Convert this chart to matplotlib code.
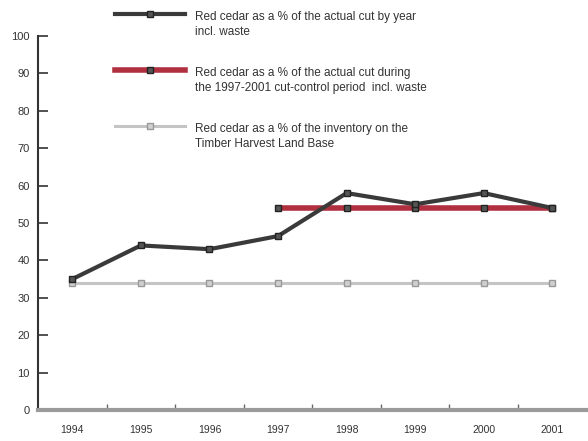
import numpy as np
import matplotlib.pyplot as plt
from matplotlib.lines import Line2D

years = [1994, 1995, 1996, 1997, 1998, 1999, 2000, 2001]
cut_by_year = [35, 44, 43, 46.5, 58, 55, 58, 54]
cc_years = [1997, 1998, 1999, 2000, 2001]
cut_control = [54, 54, 54, 54, 54]
inventory = [34, 34, 34, 34, 34, 34, 34, 34]

labels = ['Red cedar as a % of the actual cut by year\nincl. waste',
          'Red cedar as a % of the actual cut during\nthe 1997-2001 cut-control period  incl. waste',
          'Red cedar as a % of the inventory on the\nTimber Harvest Land Base']

plt.rcParams['font.family'] = ['Liberation Sans Narrow', 'Liberation Sans', 'DejaVu Sans']
txt = '#333333'

fig = plt.figure(figsize=(5.88, 4.41), dpi=100)
ax = fig.add_axes([38/588, 1 - 410/441, 550/588, 374/441])

dark = dict(color='#3a3a3a', lw=3, marker='s', ms=4.5, mfc='#555555', mec='#222222', mew=1)
red = dict(color='#b03040', lw=4, marker='s', ms=4.5, mfc='#555555', mec='#222222', mew=1)
grey = dict(color='#c4c4c4', lw=2.2, marker='s', ms=4.5, mfc='#d0d0d0', mec='#999999', mew=1)

ax.plot(years, inventory, zorder=2, **grey)
ax.plot(cc_years, cut_control, zorder=3, **red)
ax.plot(years, cut_by_year, zorder=4, **dark)

ax.set_xlim(1993.5, 2001.52)
ax.set_ylim(0, 100)
ax.set_yticks(np.arange(0, 101, 10))
ax.set_xticks(years)
ax.set_xticks(np.arange(1994.5, 2001, 1), minor=True)
ax.tick_params(axis='y', direction='in', length=7, width=1.2, color='#333333',
               labelsize=8, labelcolor=txt, pad=6)
ax.tick_params(axis='x', which='major', length=0, labelsize=7.5, labelcolor=txt, pad=11)
ax.tick_params(axis='x', which='minor', direction='in', length=4, width=1, color='#666666')

for s in ['top', 'right']:
    ax.spines[s].set_visible(False)
ax.spines['left'].set_color('#333333')
ax.spines['left'].set_linewidth(1.5)
ax.spines['bottom'].set_color('#9a9a9a')
ax.spines['bottom'].set_linewidth(3)

# legend drawn at the top, handle level with the first text line
styles = [dark, red, grey]
ys = [14, 70, 126]
for st, lab, yp in zip(styles, labels, ys):
    y = 1 - yp/441
    ln = Line2D([115/588, 185/588], [y, y], transform=fig.transFigure,
                **{k: v for k, v in st.items() if k not in ('marker',)})
    fig.add_artist(ln)
    mk = Line2D([150/588], [y], transform=fig.transFigure, ls='none', marker='s',
                ms=st['ms'], mfc=st['mfc'], mec=st['mec'], mew=st['mew'])
    fig.add_artist(mk)
    fig.text(195/588, 1 - (yp - 3)/441, lab, fontsize=8.5, color=txt,
             va='top', ha='left', linespacing=1.35)

fig.savefig('out.png', dpi=100)
